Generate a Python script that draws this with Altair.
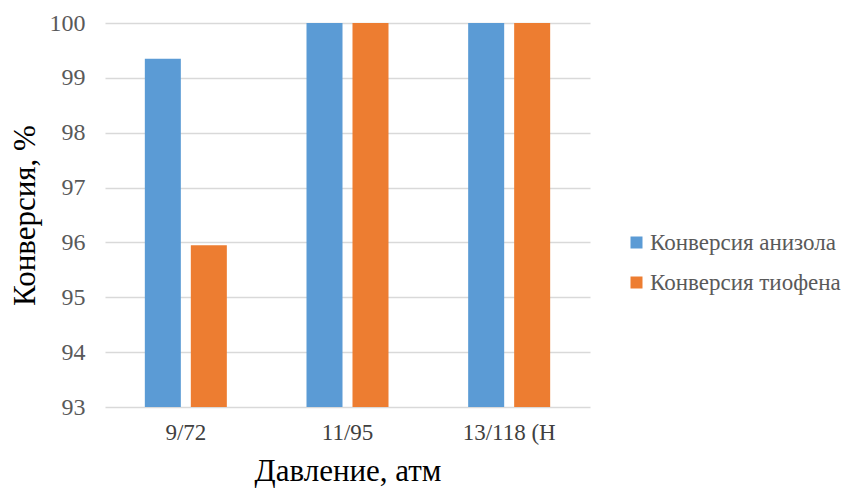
import altair as alt
import pandas as pd

# Pressure conditions (label of each group) and conversion values, %
pressures = ["9/72", "11/95", "13/118 (Н"]
anisole = [99.35, 100.0, 100.0]
thiophene = [95.95, 100.0, 100.0]
series = ["Конверсия анизола", "Конверсия тиофена"]
colors = ["#5B9BD5", "#ED7D31"]

rows = []
for i, p in enumerate(pressures):
    rows.append({"pressure": p, "series": series[0], "value": anisole[i]})
    rows.append({"pressure": p, "series": series[1], "value": thiophene[i]})
df = pd.DataFrame(rows)

TITLE_FONT = "Liberation Serif"
LABEL_FONT = "serif"

bars = alt.Chart(df).mark_bar(clip=True).encode(
    x=alt.X(
        "pressure:N",
        sort=pressures,
        scale=alt.Scale(paddingInner=0, paddingOuter=0),
        axis=alt.Axis(
            title="Давление, атм",
            labelAngle=0,
            labelFont=LABEL_FONT,
            labelFontSize=23,
            labelColor="#404040",
            labelPadding=25,
            labelBaseline="middle",
            labelLimit=0,
            ticks=False,
            domain=False,
            titleFont=TITLE_FONT,
            titleFontSize=31,
            titleFontWeight="normal",
            titleColor="#000000",
            titleY=64,
            titleBaseline="middle",
        ),
    ),
    xOffset=alt.XOffset(
        "series:N",
        sort=series,
        scale=alt.Scale(paddingInner=0.217, paddingOuter=0.866),
    ),
    y=alt.Y(
        "value:Q",
        scale=alt.Scale(domain=[93, 100], zero=False, nice=False),
        axis=alt.Axis(
            title="Конверсия, %",
            values=[93, 94, 95, 96, 97, 98, 99, 100],
            labelFont=LABEL_FONT,
            labelFontSize=24,
            labelColor="#595959",
            labelPadding=20,
            ticks=False,
            domain=False,
            gridColor="#D9D9D9",
            gridWidth=1.5,
            titleFont=TITLE_FONT,
            titleFontSize=31,
            titleFontWeight="normal",
            titleColor="#000000",
            titleX=-80,
            titleY=192,
            titleAlign="center",
            titleBaseline="middle",
        ),
    ),
    y2=alt.datum(93),
    color=alt.Color(
        "series:N",
        sort=series,
        scale=alt.Scale(domain=series, range=colors),
        legend=alt.Legend(
            title=None,
            orient="none",
            legendX=520,
            legendY=208,
            symbolType="square",
            symbolSize=144,
            symbolStrokeWidth=0,
            labelFont=LABEL_FONT,
            labelFontSize=23,
            labelColor="#595959",
            labelOffset=2,
            labelLimit=0,
            rowPadding=16,
        ),
    ),
)

chart = bars.properties(
    width=485,
    height=384,
    padding={"left": 105, "top": 23, "right": 261, "bottom": 86},
    autosize=alt.AutoSizeParams(type="none"),
    background="#FFFFFF",
).configure_view(stroke=None)

chart.save("out.html", embed_options={"renderer": "svg", "actions": False})
